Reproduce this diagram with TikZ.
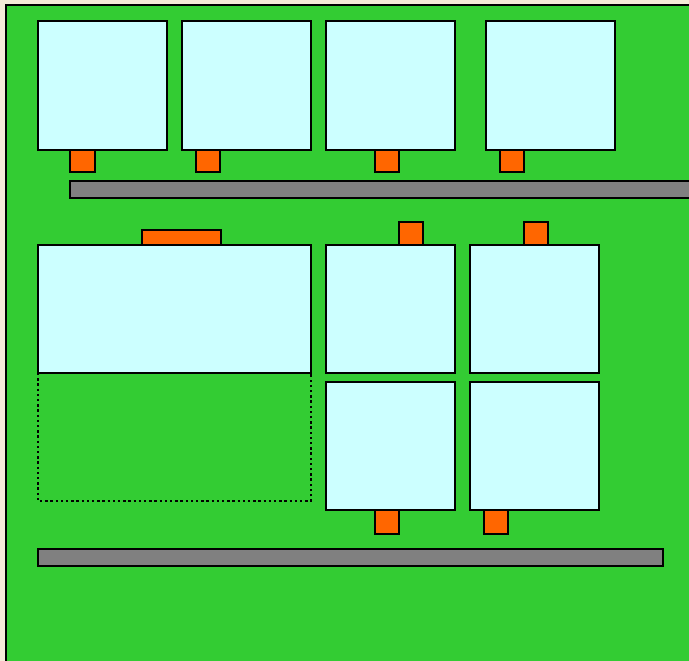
\documentclass[tikz,border=0pt]{standalone}
\begin{document}
\begin{tikzpicture}[x=1pt,y=-1pt,
  board/.style={fill=boardgreen,draw=black,line width=2.6pt},
  chip/.style={fill=chipcyan,draw=black,line width=2.6pt},
  pin/.style={fill=pinorange,draw=black,line width=2.6pt},
  rail/.style={fill=railgray,draw=black,line width=2.6pt},
  ghost/.style={draw=black,line width=2.4pt,dash pattern=on 2.4pt off 2.8pt}]
\definecolor{boardgreen}{HTML}{33CC33}
\definecolor{chipcyan}{HTML}{CCFFFF}
\definecolor{pinorange}{HTML}{FF6600}
\definecolor{railgray}{HTML}{808080}
\definecolor{outside}{HTML}{F5EBD8}
\useasboundingbox (0,0) rectangle (689,661);
\fill[outside] (0,0) rectangle (689,661);
\draw[board] (6,5) rectangle (700,680);
% top row pins
\draw[pin] (70,150) rectangle (95,172);
\draw[pin] (196,150) rectangle (220,172);
\draw[pin] (375,150) rectangle (399,172);
\draw[pin] (500,150) rectangle (524,172);
% top row chips
\draw[chip] (38,21) rectangle (167,150);
\draw[chip] (182,21) rectangle (311,150);
\draw[chip] (326,21) rectangle (455,150);
\draw[chip] (486,21) rectangle (615,150);
% upper rail
\draw[rail] (70,181) rectangle (700,198);
% second block pins
\draw[pin] (142,230) rectangle (221,246);
\draw[pin] (399,222) rectangle (423,245);
\draw[pin] (524,222) rectangle (548,245);
\draw[pin] (375,510) rectangle (399,534);
\draw[pin] (484,510) rectangle (508,534);
% big chip and dotted outline
\draw[ghost] (38,373) rectangle (311,501);
\draw[chip] (38,245) rectangle (311,373);
% grid chips
\draw[chip] (326,245) rectangle (455,373);
\draw[chip] (470,245) rectangle (599,373);
\draw[chip] (326,382) rectangle (455,510);
\draw[chip] (470,382) rectangle (599,510);
% lower rail
\draw[rail] (38,549) rectangle (663,566);
\end{tikzpicture}
\end{document}
